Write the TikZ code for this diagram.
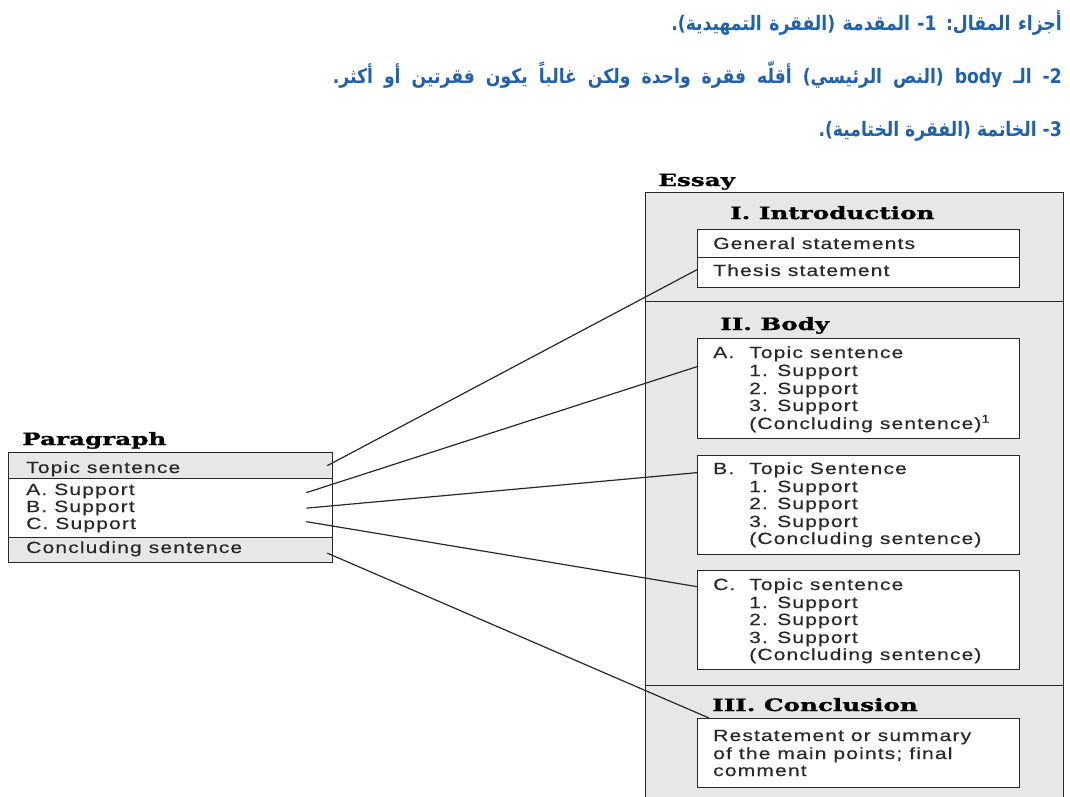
\documentclass[tikz,border=0pt]{standalone}
\usepackage{fontspec}
\TeXXeTstate=1
\newfontfamily\arabicfont[Script=Arabic,FakeStretch=0.86]{DejaVu Sans}
\newfontfamily\bodyfont[FakeStretch=1.3,LetterSpace=7,FakeBold=0.4]{Liberation Sans}
\newfontfamily\headfont[FakeStretch=1.45,FakeBold=1.2]{DejaVu Serif}
\definecolor{arblue}{RGB}{31,97,172}
\definecolor{ink}{RGB}{40,40,40}
\definecolor{paper}{RGB}{231,231,231}
\begin{document}
\begin{tikzpicture}[x=1pt,y=-1pt,
  arabic/.style={anchor=base east, inner sep=0pt, text=arblue, font=\arabicfont\bfseries\fontsize{20}{20}\selectfont},
  head/.style={anchor=base west, inner sep=0pt, text=black, font=\headfont\bfseries\fontsize{17}{17}\selectfont},
  txt/.style={anchor=base west, inner sep=0pt, text=ink, font=\bodyfont\fontsize{16.2}{16.2}\selectfont},
  wbox/.style={draw=ink, line width=1.3pt, fill=white, rectangle, inner sep=0pt, anchor=north west},
  gbox/.style={wbox, fill=paper},
  link/.style={draw=ink, line width=1.2pt},
]
\useasboundingbox (0,0) rectangle (1070,796);

% Arabic header
\node[arabic] (ar1) at (1062,30) {\spaceskip=7.5pt\relax\beginR أجزاء المقال: 1- المقدمة (الفقرة التمهيدية).\endR};
\node[arabic] (ar2) at (1062,83) {\spaceskip=11pt\relax\beginR 2- الـ \beginL body\endL{} (النص الرئيسي) أقلّه فقرة واحدة ولكن غالباً يكون فقرتين أو أكثر.\endR};
\node[arabic] (ar3) at (1062,136) {\beginR 3- الخاتمة (الفقرة الختامية).\endR};

% Essay
\node[head] (essay) at (658,186) {Essay};
\node[gbox, minimum width=418pt, minimum height=109pt] (secI) at (645,192) {};
\node[gbox, minimum width=418pt, minimum height=384pt] (secB) at (645,301) {};
\node[gbox, minimum width=418pt, minimum height=120pt] (secC) at (645,685) {};

\node[head] (hI) at (730,219) {I. Introduction};
\node[wbox, minimum width=322pt, minimum height=28pt] (rowG) at (697,229) {};
\node[wbox, minimum width=322pt, minimum height=30pt] (rowTh) at (697,257) {};
\node[txt] (tG) at (713,249) {General statements};
\node[txt] (tTh) at (713,276) {Thesis statement};

\node[head] (hII) at (720,330) {II. Body};
\node[wbox, minimum width=322pt, minimum height=100pt] (bA) at (697,338) {};
\node[wbox, minimum width=322pt, minimum height=99pt] (bB) at (697,455) {};
\node[wbox, minimum width=322pt, minimum height=99pt] (bC) at (697,570) {};

\node[txt] (a0) at (713,358) {A.};
\node[txt] (a1) at (749,358) {Topic sentence};
\node[txt] (a2) at (749,376) {1. Support};
\node[txt] (a3) at (749,394) {2. Support};
\node[txt] (a4) at (749,411) {3. Support};
\node[txt] (a5) at (749,429) {(Concluding sentence)\textsuperscript{1}};

\node[txt] (b0) at (713,474) {B.};
\node[txt] (b1) at (749,474) {Topic Sentence};
\node[txt] (b2) at (749,492) {1. Support};
\node[txt] (b3) at (749,509) {2. Support};
\node[txt] (b4) at (749,527) {3. Support};
\node[txt] (b5) at (749,544) {(Concluding sentence)};

\node[txt] (c0) at (713,590) {C.};
\node[txt] (c1) at (749,590) {Topic sentence};
\node[txt] (c2) at (749,608) {1. Support};
\node[txt] (c3) at (749,625) {2. Support};
\node[txt] (c4) at (749,643) {3. Support};
\node[txt] (c5) at (749,660) {(Concluding sentence)};

\node[head] (hIII) at (712,711) {III. Conclusion};
\node[wbox, minimum width=322pt, minimum height=69pt] (bConc) at (697,718) {};
\node[txt] (d1) at (713,741) {Restatement or summary};
\node[txt] (d2) at (713,759) {of the main points; final};
\node[txt] (d3) at (713,776) {comment};

% Paragraph
\node[head] (para) at (22,445) {Paragraph};
\node[gbox, minimum width=324pt, minimum height=26pt] (rowT) at (8,452) {};
\node[wbox, minimum width=324pt, minimum height=59pt] (rowS) at (8,478) {};
\node[gbox, minimum width=324pt, minimum height=25pt] (rowC) at (8,537) {};
\node[txt] (pT) at (26,473) {Topic sentence};
\node[txt] (pA) at (26,495) {A. Support};
\node[txt] (pB) at (26,512) {B. Support};
\node[txt] (pC) at (26,529) {C. Support};
\node[txt] (pK) at (26,553) {Concluding sentence};

% connectors
\draw[link] ([xshift=-6pt]rowT.east) -- ([yshift=3pt]rowTh.west);
\draw[link] ([xshift=-27pt,yshift=15.5pt]rowS.east) -- ([yshift=22pt]bA.west);
\draw[link] ([xshift=-27pt]rowS.east) -- ([yshift=32.5pt]bB.west);
\draw[link] ([xshift=-27pt,yshift=-13.5pt]rowS.east) -- ([yshift=33.5pt]bC.west);
\draw[link] ([xshift=-6pt,yshift=-3pt]rowC.east) -- ([xshift=12pt]bConc.north west);
\end{tikzpicture}
\end{document}
